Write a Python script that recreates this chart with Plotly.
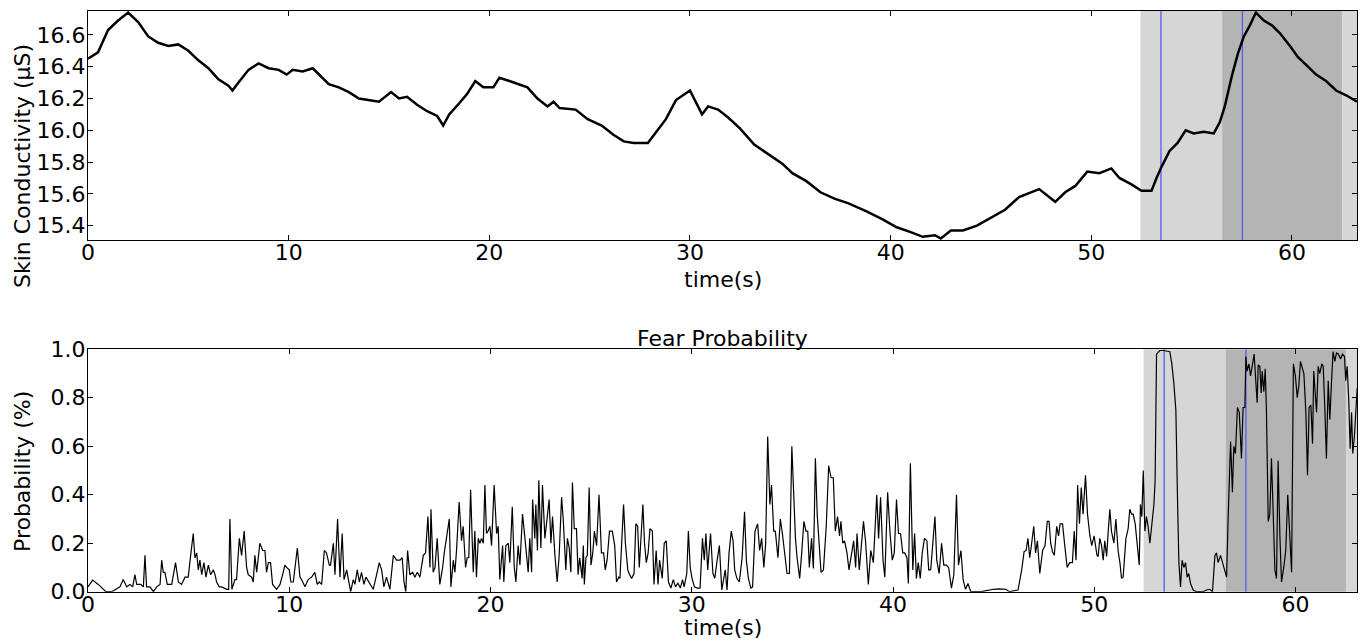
import plotly.graph_objects as go

# ---------------- data ----------------
sc_time = [0.0, 0.5, 1.0, 1.5, 2.0, 2.5, 3.0, 3.5, 4.0, 4.5, 5.0, 5.5, 6.0, 6.5, 7.0, 7.2, 7.5,
           8.0, 8.5, 9.0, 9.5, 9.9, 10.2, 10.7, 11.2, 11.5, 12.0, 12.5, 13.0, 13.5, 14.0, 14.5,
           15.1, 15.5, 15.9, 16.4, 16.9, 17.4, 17.7, 18.0, 18.5, 18.9, 19.3, 19.7, 20.2, 20.5,
           21.0, 21.5, 21.9, 22.4, 22.9, 23.2, 23.5, 24.3, 24.9, 25.6, 26.2, 26.7, 27.2, 27.9,
           28.3, 28.8, 29.3, 30.0, 30.4, 30.6, 30.9, 31.4, 31.9, 32.5, 33.2, 33.9, 34.6, 35.1,
           35.8, 36.5, 37.2, 37.9, 38.8, 39.6, 40.3, 41.0, 41.6, 42.2, 42.5, 43.0, 43.6, 44.3,
           45.0, 45.7, 46.4, 47.4, 48.2, 48.7, 49.2, 49.8, 50.4, 51.0, 51.4, 52.0, 52.5, 53.0,
           53.25, 53.5, 53.9, 54.3, 54.7, 55.1, 55.6, 56.1, 56.4, 56.65, 57.0, 57.3, 57.6, 57.9,
           58.2, 58.6, 59.0, 59.4, 59.9, 60.3, 60.8, 61.2, 61.7, 62.2, 62.7, 63.24]
sc_value = [16.45, 16.49, 16.63, 16.69, 16.74, 16.68, 16.59, 16.55, 16.53, 16.54, 16.50, 16.44,
            16.39, 16.32, 16.28, 16.25, 16.30, 16.38, 16.42, 16.39, 16.38, 16.35, 16.38, 16.37,
            16.39, 16.35, 16.29, 16.27, 16.24, 16.20, 16.19, 16.18, 16.24, 16.20, 16.21, 16.16,
            16.12, 16.09, 16.03, 16.10, 16.17, 16.23, 16.31, 16.27, 16.27, 16.33, 16.31, 16.29,
            16.27, 16.20, 16.15, 16.18, 16.14, 16.13, 16.07, 16.03, 15.97, 15.93, 15.92, 15.92,
            15.99, 16.07, 16.19, 16.25, 16.15, 16.10, 16.15, 16.13, 16.08, 16.01, 15.91, 15.85,
            15.79, 15.73, 15.68, 15.61, 15.57, 15.54, 15.49, 15.44, 15.39, 15.36, 15.33, 15.34,
            15.32, 15.37, 15.37, 15.40, 15.45, 15.50, 15.58, 15.63, 15.55, 15.61, 15.65, 15.74,
            15.73, 15.76, 15.70, 15.66, 15.62, 15.62, 15.70, 15.77, 15.87, 15.92, 16.00, 15.98,
            15.99, 15.98, 16.05, 16.15, 16.34, 16.48, 16.59, 16.66, 16.74, 16.69, 16.66, 16.61,
            16.53, 16.46, 16.40, 16.35, 16.31, 16.25, 16.22, 16.18]

fp_time = [0.0, 0.23, 0.51, 0.76, 0.89, 1.18, 1.42, 1.59, 1.75, 1.92, 2.09, 2.22, 2.33, 2.42,
           2.62, 2.75, 2.83, 2.91, 3.08, 3.25, 3.41, 3.58, 3.66, 3.74, 3.82, 3.94, 4.16, 4.35,
           4.49, 4.65, 4.82, 4.98, 5.10, 5.23, 5.31, 5.40, 5.48, 5.56, 5.65, 5.76, 5.86, 5.98,
           6.09, 6.23, 6.31, 6.39, 6.52, 6.64, 6.89, 6.99, 7.05, 7.15, 7.30, 7.38, 7.52, 7.63,
           7.76, 7.88, 7.96, 8.13, 8.21, 8.29, 8.38, 8.54, 8.68, 8.79, 8.87, 8.96, 9.07, 9.17,
           9.37, 9.54, 9.70, 9.78, 9.87, 10.0, 10.08, 10.2, 10.4, 10.53, 10.61, 10.78, 10.94,
           11.11, 11.27, 11.39, 11.49, 11.61, 11.74, 11.85, 11.99, 12.05, 12.19, 12.27, 12.40,
           12.52, 12.63, 12.72, 12.85, 12.98, 13.05, 13.18, 13.26, 13.38, 13.48, 13.59, 13.71,
           13.81, 13.94, 14.04, 14.17, 14.34, 14.47, 14.59, 14.70, 14.83, 15.0, 15.17, 15.33,
           15.50, 15.61, 15.70, 15.79, 15.88, 15.99, 16.13, 16.24, 16.36, 16.49, 16.66, 16.77,
           16.89, 16.99, 17.04, 17.15, 17.24, 17.35, 17.48, 17.62, 17.70, 17.81, 17.95, 18.03,
           18.15, 18.23, 18.31, 18.44, 18.56, 18.64, 18.76, 18.84, 18.92, 19.01, 19.14, 19.22,
           19.30, 19.39, 19.47, 19.55, 19.64, 19.72, 19.80, 19.88, 19.97, 20.05, 20.18, 20.30,
           20.38, 20.46, 20.60, 20.66, 20.76, 20.88, 20.96, 21.08, 21.18, 21.26, 21.37, 21.46,
           21.59, 21.71, 21.79, 21.87, 21.95, 22.04, 22.09, 22.20, 22.25, 22.33, 22.40, 22.50,
           22.58, 22.70, 22.78, 22.91, 23.00, 23.08, 23.20, 23.31, 23.41, 23.53, 23.61, 23.74,
           23.82, 23.91, 23.99, 24.07, 24.16, 24.27, 24.35,
           24.43, 24.55, 24.61, 24.66, 24.74, 24.81, 24.90, 24.99, 25.08, 25.16, 25.27, 25.39,
           25.51, 25.62, 25.70, 25.79, 25.91, 26.05, 26.17, 26.26, 26.37, 26.43, 26.61, 26.70,
           26.82, 26.91, 27.01, 27.13, 27.22, 27.31, 27.39, 27.48, 27.57, 27.65, 27.74, 27.83,
           27.92, 28.04, 28.12, 28.23, 28.32, 28.40, 28.53, 28.63, 28.73, 28.84, 28.96, 29.08,
           29.19, 29.31, 29.43, 29.54, 29.62, 29.75, 29.83, 29.92, 30.01, 30.13, 30.27, 30.41,
           30.53, 30.62, 30.70, 30.79, 30.93, 31.05, 31.14, 31.26, 31.37, 31.49, 31.58, 31.66,
           31.75, 31.85, 31.96, 32.05, 32.13, 32.24, 32.36, 32.50, 32.62, 32.71, 32.81, 32.93,
           33.02, 33.14, 33.27, 33.37, 33.47, 33.58, 33.67, 33.77, 33.88, 33.96, 34.07, 34.15,
           34.28, 34.40, 34.50, 34.62, 34.73, 34.85, 34.97, 35.06, 35.15, 35.23, 35.36, 35.46,
           35.57, 35.67, 35.76, 35.84, 35.95, 36.04, 36.14, 36.23, 36.33, 36.42, 36.54, 36.68,
           36.80, 36.92, 37.03, 37.13, 37.24, 37.34, 37.41, 37.50, 37.59, 37.71, 37.81, 37.94,
           38.04, 38.14, 38.21, 38.32, 38.42, 38.53, 38.63, 38.77, 38.89, 39.02, 39.19, 39.28,
           39.38, 39.50, 39.59, 39.73, 39.85, 39.96, 40.06, 40.17, 40.27, 40.37, 40.48, 40.58,
           40.69, 40.76, 40.86, 40.98, 41.07, 41.16, 41.25, 41.35, 41.45, 41.56, 41.68, 41.77,
           41.87, 41.98, 42.08, 42.17, 42.29, 42.41, 42.52, 42.64, 42.76, 42.90, 43.02, 43.15,
           43.25, 43.37, 43.48, 43.60, 43.72, 43.86, 44.38, 44.99, 45.25, 45.60, 45.78, 46.21,
           46.39, 46.51, 46.61, 46.70, 46.79, 46.87, 46.99, 47.08, 47.17, 47.29, 47.43, 47.55,
           47.66, 47.75, 47.83, 47.92, 48.01, 48.13, 48.22, 48.30, 48.42, 48.53, 48.65, 48.77,
           48.91, 49.0, 49.09, 49.17, 49.26, 49.35, 49.44, 49.56, 49.66, 49.78, 49.87, 49.99,
           50.13,
           50.19, 50.27, 50.36, 50.44, 50.52, 50.61, 50.69, 50.77, 50.85, 50.97, 51.07, 51.18,
           51.27, 51.35, 51.43, 51.57, 51.68, 51.76, 51.85, 51.93, 52.03, 52.13, 52.23, 52.29,
           52.36, 52.43, 52.51, 52.59, 52.67, 52.76, 52.84, 52.96, 53.02, 53.09, 53.25, 53.45,
           53.75, 53.85, 53.95, 54.05, 54.13, 54.20, 54.28, 54.36, 54.45, 54.53, 54.61, 54.69,
           54.78, 54.91, 55.08, 55.41, 55.57, 55.74, 55.87, 55.99, 56.07, 56.15, 56.27, 56.37,
           56.47, 56.57, 56.65, 56.77, 56.86, 56.93, 57.01, 57.11, 57.20, 57.31, 57.39, 57.48,
           57.53, 57.59, 57.68, 57.76, 57.86, 57.94, 58.02, 58.09, 58.14, 58.22, 58.29, 58.34,
           58.42, 58.49, 58.55, 58.64, 58.72, 58.80, 58.88, 58.97, 59.05, 59.13, 59.22, 59.30,
           59.41, 59.51, 59.61, 59.71, 59.80, 59.89, 59.99, 60.08, 60.16, 60.24, 60.32, 60.41,
           60.51, 60.59, 60.67, 60.76, 60.84, 60.90, 60.99, 61.04, 61.12, 61.20, 61.30, 61.37,
           61.45, 61.53, 61.62, 61.70, 61.78, 61.86, 61.95, 62.03, 62.13, 62.23, 62.33, 62.43,
           62.49, 62.56, 62.64, 62.71, 62.78, 62.84, 62.92, 62.99, 63.06]
fp_value = [0.02, 0.048, 0.03, 0.01, 0.0, 0.0, 0.01, 0.02, 0.05, 0.02, 0.03, 0.02, 0.07, 0.03,
            0.03, 0.02, 0.15, 0.02, 0.02, 0.0, 0.02, 0.03, 0.13, 0.08, 0.08, 0.03, 0.03, 0.12,
            0.04, 0.03, 0.06, 0.06, 0.15, 0.24, 0.14, 0.16, 0.09, 0.13, 0.07, 0.12, 0.06, 0.11,
            0.07, 0.09, 0.07, 0.04, 0.02, 0.02, 0.01, 0.01, 0.30, 0.01, 0.05, 0.05, 0.22, 0.15,
            0.25, 0.10, 0.07, 0.06, 0.04, 0.15, 0.08, 0.20, 0.17, 0.17, 0.08, 0.12, 0.12, 0.03,
            0.01, 0.03, 0.08, 0.11, 0.10, 0.09, 0.04, 0.04, 0.18, 0.06, 0.05, 0.02, 0.05,
            0.06, 0.08, 0.03, 0.04, 0.03, 0.17, 0.16, 0.11, 0.11, 0.20, 0.07, 0.30,
            0.06, 0.24, 0.05, 0.09, 0.02, 0.0, 0.05, 0.03, 0.09, 0.04, 0.08, 0.03,
            0.06, 0.04, 0.03, 0.01, 0.07, 0.12, 0.09, 0.02, 0.06, 0.01, 0.15, 0.13,
            0.13, 0.14, 0.04, 0.0, 0.17, 0.07, 0.08, 0.06, 0.08, 0.06, 0.15, 0.16,
            0.31, 0.10, 0.34, 0.08, 0.10, 0.22, 0.03, 0.10, 0.16, 0.22, 0.30, 0.02,
            0.13, 0.08, 0.17, 0.37, 0.21, 0.27, 0.10, 0.14, 0.14, 0.42, 0.08, 0.25,
            0.06, 0.22, 0.20, 0.22, 0.20, 0.44, 0.24, 0.25, 0.27, 0.19, 0.44, 0.24,
            0.27, 0.05, 0.19, 0.04, 0.19, 0.20, 0.12, 0.35, 0.10, 0.04, 0.19, 0.11,
            0.32, 0.22, 0.15, 0.08, 0.22, 0.08, 0.38, 0.22, 0.36, 0.17, 0.46, 0.18,
            0.44, 0.22, 0.28, 0.38, 0.20, 0.31, 0.15, 0.04, 0.15, 0.39, 0.30, 0.09,
            0.22, 0.18, 0.08, 0.45, 0.26, 0.26, 0.07,
            0.14, 0.055, 0.19, 0.03, 0.14, 0.15, 0.43, 0.11, 0.16, 0.25, 0.19, 0.40,
            0.16, 0.16, 0.09, 0.13, 0.25, 0.25, 0.19, 0.04, 0.06, 0.055, 0.36, 0.20,
            0.09, 0.07, 0.055, 0.075, 0.28, 0.27, 0.10, 0.23, 0.36, 0.20, 0.12, 0.16,
            0.26, 0.25, 0.03, 0.17, 0.03, 0.13, 0.055, 0.20, 0.21, 0.04, 0.015, 0.05,
            0.02, 0.035, 0.015, 0.05, 0.02, 0.075, 0.25, 0.10, 0.055, 0.02, 0.015, 0.015,
            0.22, 0.13, 0.24, 0.09, 0.24, 0.075, 0.055, 0.13, 0.19, 0.007, 0.055, 0.09,
            0.007, 0.16, 0.25, 0.21, 0.09, 0.055, 0.04, 0.14, 0.33, 0.13, 0.055, 0.015,
            0.02, 0.25, 0.28, 0.17, 0.22, 0.10, 0.20, 0.64, 0.36, 0.44, 0.25, 0.25,
            0.14, 0.30, 0.24, 0.14, 0.075, 0.075, 0.60, 0.41, 0.22, 0.14, 0.055, 0.16,
            0.29, 0.25, 0.25, 0.10, 0.22, 0.096, 0.55, 0.32, 0.21, 0.08, 0.09, 0.27,
            0.52, 0.47, 0.47, 0.25, 0.31, 0.23, 0.29, 0.20, 0.21, 0.16, 0.09, 0.16,
            0.21, 0.10, 0.24, 0.09, 0.19, 0.29, 0.21, 0.03, 0.17, 0.12, 0.40, 0.22,
            0.39, 0.13, 0.06, 0.41, 0.24, 0.13, 0.16, 0.38, 0.24, 0.24, 0.16, 0.16,
            0.14, 0.034, 0.53, 0.09, 0.24, 0.055, 0.12, 0.055, 0.16, 0.22, 0.21, 0.09,
            0.09, 0.20, 0.31, 0.13, 0.075, 0.20, 0.11, 0.11, 0.10, 0.015, 0.07, 0.40,
            0.11, 0.17, 0.05, 0.01, 0.034, 0.0, 0.0, 0.01, 0.012, 0.01, 0.0, 0.007,
            0.09, 0.165, 0.17, 0.22, 0.14, 0.19, 0.27, 0.16, 0.21, 0.075, 0.17, 0.19,
            0.29, 0.29, 0.20, 0.165, 0.15, 0.27, 0.23, 0.28, 0.28, 0.19, 0.10, 0.12,
            0.12, 0.25, 0.13, 0.44, 0.28, 0.43, 0.32, 0.48, 0.32, 0.23, 0.19, 0.23,
            0.15,
            0.145, 0.22, 0.19, 0.13, 0.21, 0.145, 0.25, 0.34, 0.25, 0.20, 0.30, 0.17,
            0.12, 0.055, 0.06, 0.22, 0.26, 0.34, 0.32, 0.32, 0.28, 0.20, 0.11, 0.36,
            0.31, 0.50, 0.25, 0.31, 0.27, 0.20, 0.27, 0.36, 0.46, 0.98, 0.995, 0.995,
            0.99, 0.94, 0.86, 0.75, 0.39, 0.12, 0.02, 0.13, 0.10, 0.12, 0.06, 0.075,
            0.034, 0.007, 0.0, 0.0, 0.007, 0.01, 0.0, 0.15, 0.16, 0.12, 0.15, 0.12,
            0.09, 0.06, 0.31, 0.62, 0.41, 0.60, 0.57, 0.76, 0.74, 0.55, 0.76, 0.76,
            0.97, 0.91, 0.94, 0.89, 0.94, 0.98, 0.87, 0.78, 0.935, 0.93, 0.82, 0.91,
            0.825, 0.92, 0.75, 0.29, 0.32, 0.55, 0.34, 0.09, 0.055, 0.54, 0.23, 0.04,
            0.10, 0.17, 0.40, 0.20, 0.08, 0.94, 0.89, 0.80, 0.85, 0.95, 0.92, 0.90,
            0.74, 0.48, 0.76, 0.77, 0.61, 0.91, 0.80, 0.74, 0.93, 0.90, 0.94, 0.93,
            0.76, 0.55, 0.87, 0.71, 0.86, 0.99, 0.95, 0.985, 0.98, 0.96, 0.98, 0.97,
            0.87, 0.93, 0.79, 0.59, 0.74, 0.57, 0.64, 0.76, 0.84]

x_ticks = [0, 10, 20, 30, 40, 50, 60]
sc_ticks = [15.4, 15.6, 15.8, 16.0, 16.2, 16.4, 16.6]
fp_ticks = [0.0, 0.2, 0.4, 0.6, 0.8, 1.0]

light_span = [52.45, 56.52]
dark_span = [56.52, 62.5]
light_span2 = [62.5, 63.3]
event_times = [53.47, 57.53]

sc_range = [15.31, 16.75]
sc_xmax = 63.24
fp_xmax = 63.05

# ---------------- figure ----------------
W, H = 1364, 644
FONT = "DejaVu Sans"
FS = 22

fig = go.Figure()
fig.add_trace(go.Scatter(x=sc_time, y=sc_value, mode="lines",
                         line=dict(color="black", width=2.5), xaxis="x", yaxis="y",
                         showlegend=False, hoverinfo="skip"))
fig.add_trace(go.Scatter(x=fp_time, y=fp_value, mode="lines",
                         line=dict(color="black", width=1.2), xaxis="x2", yaxis="y2",
                         showlegend=False, hoverinfo="skip"))

shapes = []
for xa, ya in (("x", "y"), ("x2", "y2")):
    for span, col in ((light_span, "#d5d6d5"), (dark_span, "#b4b4b4"), (light_span2, "#d5d6d5")):
        shapes.append(dict(type="rect", xref=xa, yref=ya + " domain", x0=span[0], x1=span[1],
                           y0=0, y1=1, fillcolor=col, line=dict(width=0), layer="below"))
    for t in event_times:
        shapes.append(dict(type="line", xref=xa, yref=ya + " domain", x0=t, x1=t, y0=0, y1=1,
                           line=dict(color="#5a5af0", width=1.3), layer="below"))

xdom = [88 / W, 1357 / W]
top_dom = [(H - 240) / H, (H - 11) / H]
bot_dom = [(H - 591.7) / H, (H - 349.3) / H]

axis_common = dict(showgrid=False, zeroline=False, showline=True, linecolor="black",
                   linewidth=1, mirror="ticks", ticks="inside", ticklen=5, automargin=False,
                   tickcolor="black", tickfont=dict(family=FONT, size=FS, color="black"))

fig.update_layout(
    width=W, height=H, margin=dict(l=0, r=0, t=0, b=0),
    paper_bgcolor="white", plot_bgcolor="white",
    font=dict(family=FONT, size=FS, color="black"),
    xaxis=dict(domain=xdom, anchor="y", range=[0, sc_xmax], tickvals=x_ticks,
               ticklabelstandoff=-7, **axis_common),
    yaxis=dict(domain=top_dom, anchor="x", range=sc_range, tickvals=sc_ticks,
               ticktext=[f"{v:.1f}" for v in sc_ticks], ticklabelstandoff=-3, **axis_common),
    xaxis2=dict(domain=xdom, anchor="y2", range=[0, fp_xmax], tickvals=x_ticks,
                ticklabelstandoff=-7, **axis_common),
    yaxis2=dict(domain=bot_dom, anchor="x2", range=[0, 1], tickvals=fp_ticks,
                ticktext=[f"{v:.1f}" for v in fp_ticks], ticklabelstandoff=-3, **axis_common),
    shapes=shapes,
    annotations=[
        dict(text="time(s)", xref="paper", yref="paper", x=722.5 / W, y=(H - 279) / H,
             showarrow=False, xanchor="center", yanchor="middle", font=dict(size=FS)),
        dict(text="time(s)", xref="paper", yref="paper", x=722.5 / W, y=(H - 627) / H,
             showarrow=False, xanchor="center", yanchor="middle", font=dict(size=FS)),
        dict(text="Fear Probability", xref="paper", yref="paper", x=722.5 / W, y=(H - 338) / H,
             showarrow=False, xanchor="center", yanchor="middle", font=dict(size=FS)),
        dict(text="Skin Conductivity (µS)", xref="paper", yref="paper", x=22 / W,
             y=(H - 166) / H, showarrow=False, textangle=-90, xanchor="center",
             yanchor="middle", font=dict(size=FS)),
        dict(text="Probability (%)", xref="paper", yref="paper", x=22 / W, y=(H - 472) / H,
             showarrow=False, textangle=-90, xanchor="center", yanchor="middle",
             font=dict(size=FS)),
    ],
)

fig.write_html("out.html", config={"displayModeBar": False},
               post_script="document.body.style.margin='0';document.body.style.overflow='hidden';")
